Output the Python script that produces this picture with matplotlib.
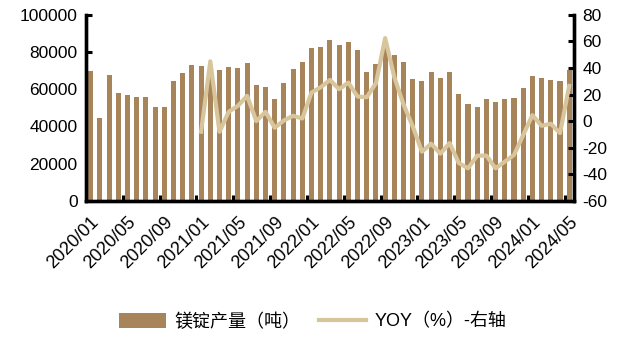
import matplotlib
matplotlib.use("Agg")
import matplotlib.pyplot as plt
from matplotlib.ticker import FixedLocator

plt.rcParams['font.family'] = ['Liberation Sans', 'Noto Sans CJK SC', 'DejaVu Sans']
plt.rcParams['axes.unicode_minus'] = False

# 月度镁锭产量（吨），2020/01 - 2024/05
months = [f"{y}/{m:02d}" for y in range(2020, 2025) for m in range(1, 13)][:53]
output = [
    70000, 44300, 67700, 58100, 57000, 55900, 55900, 50200, 50500, 64200, 68800, 73100,
    72600, 68000, 70400, 72000, 71500, 74200, 62400, 61300, 54500, 63600, 71000, 74400,
    82300, 82800, 86600, 83900, 85500, 81200, 69000, 73800, 84000, 78500, 74400, 65600,
    64200, 69000, 66300, 69500, 57500, 52200, 50700, 54500, 52900, 55000, 55500, 60400,
    67200, 66100, 64700, 64200, 70100,
]
# 同比（%），从 2021/01 开始
yoy = [
    -8, 45, -8, 7, 11.5, 19, 0, 7, -5, 0.5, 4, 2,
    21.5, 25.5, 31, 24, 29, 18.5, 18, 28.5, 62.5, 33, 12.5, -4,
    -23, -17, -24.5, -16.5, -31.5, -35.5, -26, -26, -35.5, -30.5, -25.5, -10.5,
    4.5, -3.5, -2, -9, 26.5,
]

bar_color = '#A7845A'
line_color = '#D8C59B'

fig = plt.figure(figsize=(6.19, 3.37), dpi=100)
ax = fig.add_axes([0.139, 0.404, 0.788, 0.552])
ax2 = ax.twinx()

x = list(range(len(months)))
bars = ax.bar(x, output, width=0.55, color=bar_color, zorder=2)
x_yoy = x[len(months) - len(yoy):]
line, = ax2.plot(x_yoy, yoy, color=line_color, lw=3, zorder=3)

ax.set_xlim(-0.5, len(months) - 0.5)
ax.set_ylim(0, 100000)
ax.set_yticks(range(0, 100001, 20000))
ax2.set_ylim(-60, 80)
ax2.set_yticks(range(-60, 81, 20))

# 标签放在每 4 个月的中心，刻度线画在类别边界上
ax.set_xticks(x[::4])
ax.set_xticklabels(months[::4], rotation=45, ha='right', rotation_mode='anchor')
ax.xaxis.set_minor_locator(FixedLocator([k + 0.5 for k in range(3, len(months) - 1, 4)]))
ax.tick_params(axis='x', which='major', length=0, pad=9, labelsize=13)
ax.tick_params(axis='x', which='minor', direction='in', length=4, width=2.2)
ax.tick_params(axis='y', direction='in', length=4, width=2.2, labelsize=12.5, pad=6)
ax2.tick_params(axis='y', direction='in', length=4, width=2.2, labelsize=12.5, pad=6)

for a in (ax, ax2):
    a.spines['top'].set_visible(False)
    for s in ('left', 'right', 'bottom'):
        a.spines[s].set_linewidth(2.4)
        a.spines[s].set_color('black')
ax.patch.set_visible(False)
ax2.patch.set_visible(False)
ax.set_zorder(0)
ax2.set_zorder(1)

fig.legend([bars, line], ['镁锭产量（吨）', 'YOY（%）-右轴'], loc='center',
           bbox_to_anchor=(0.505, 0.045), ncol=2, frameon=False, fontsize=13,
           handlelength=2.6, handleheight=0.9, columnspacing=1.0, handletextpad=0.5)

fig.savefig('out.png', dpi=100)
